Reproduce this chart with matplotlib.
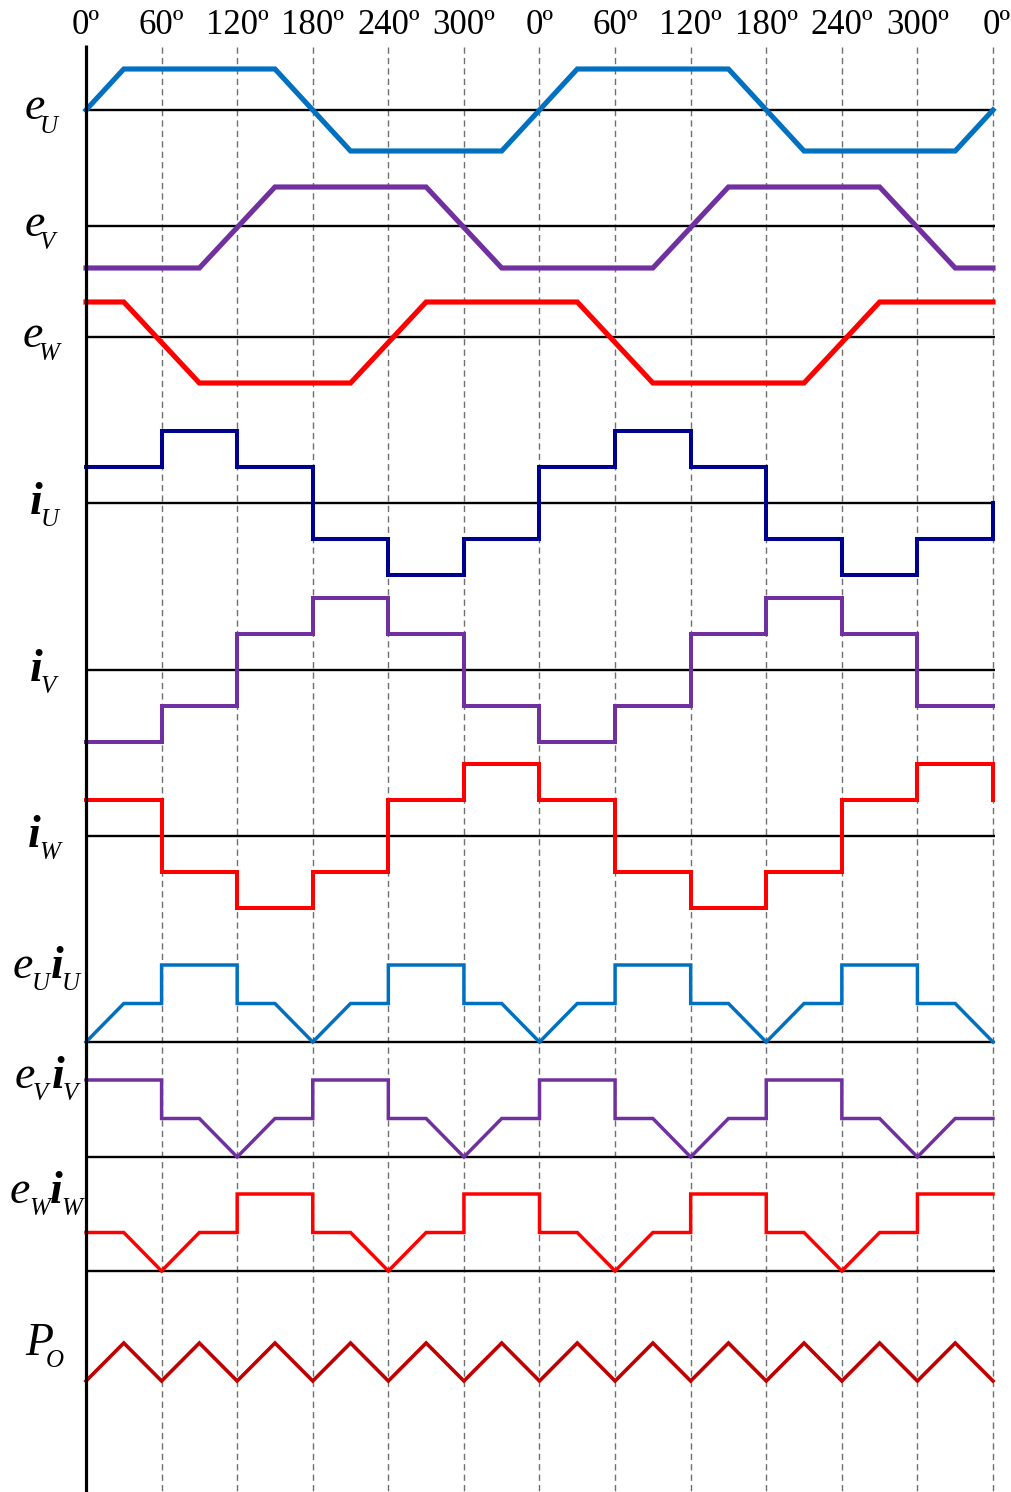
import matplotlib.pyplot as plt

W, H = 1012, 1492

# back-EMF breakpoints over one electrical period (deg, normalised value)
EU_X = [0, 30, 150, 210, 330, 360]
EU_Y = [0, 1, 1, -1, -1, 0]
EV_X = [0, 90, 150, 270, 330, 360]
EV_Y = [-1, -1, 1, 1, -1, -1]
EW_X = [0, 30, 90, 210, 270, 360]
EW_Y = [1, 1, -1, -1, 1, 1]

# six-step phase currents: level held from each 60 deg mark (last = end value)
STEP_X = [0, 60, 120, 180, 240, 300, 360, 420, 480, 540, 600, 660, 720]
IU_LEVELS = [1, 2, 1, -1, -2, -1, 1, 2, 1, -1, -2, -1, 0]
IV_LEVELS = [-2, -1, 1, 2, 1, -1, -2, -1, 1, 2, 1, -1, -1]
IW_LEVELS = [1, -1, -2, -1, 1, 2, 1, -1, -2, -1, 1, 2, 1]

# phase powers over one period
PU_X = [0, 30, 60, 60, 120, 120, 150, 180, 210, 240, 240, 300, 300, 330, 360]
PU_Y = [0, 1, 1, 2, 2, 1, 1, 0, 1, 1, 2, 2, 1, 1, 0]
PV_X = [0, 60, 60, 90, 120, 150, 180, 180, 240, 240, 270, 300, 330, 360]
PV_Y = [2, 2, 1, 1, 0, 1, 1, 2, 2, 1, 1, 0, 1, 1]
PW_X = [0, 30, 60, 90, 120, 120, 180, 180, 210, 240, 270, 300, 300, 360]
PW_Y = [1, 1, 0, 1, 1, 2, 2, 1, 1, 0, 1, 1, 2, 2]

# total output power
PO_X = [0, 30, 60, 90, 120, 150, 180, 210, 240, 270, 300, 330, 360,
        390, 420, 450, 480, 510, 540, 570, 600, 630, 660, 690, 720]
PO_Y = [3, 4, 3, 4, 3, 4, 3, 4, 3, 4, 3, 4, 3, 4, 3, 4, 3, 4, 3, 4, 3, 4, 3, 4, 3]

TICK_DEG = [0, 60, 120, 180, 240, 300, 360, 420, 480, 540, 600, 660, 720]
TICK_TXT = ["0º", "60º", "120º", "180º", "240º", "300º",
            "0º", "60º", "120º", "180º", "240º", "300º", "0º"]


def two_periods(xs, ys):
    return xs + [x + 360 for x in xs], ys + ys


def to_px(vals, base, up, down=None):
    down = up if down is None else down
    return [base - v * up if v >= 0 else base - v * down for v in vals]


X0, X720 = 86, 993
deg_per_px = 720 / (X720 - X0)

fig = plt.figure(figsize=(W / 100, H / 100), dpi=100)
ax = fig.add_axes([0, 0, 1, 1])
ax.set_xlim(-X0 * deg_per_px, (W - X0) * deg_per_px)
ax.set_ylim(H, 0)
ax.axis("off")

# grid
ax.vlines(TICK_DEG[1:], 47, H, colors="#707070", lw=1.0, linestyles=(0, (4.5, 3)), zorder=1)
ax.vlines(0, 45, H, colors="black", lw=2.3, zorder=4)
for y in [110, 226, 337, 503, 670, 836, 1042, 1157, 1271]:
    ax.hlines(y, 0, 721.5, colors="black", lw=1.7, zorder=2)

# back-EMFs
blue, purple, red, navy, dred = "#0070C0", "#7030A0", "#FF0000", "#00008F", "#C00000"
for (xs, ys), base, up, dn, c in [
    (two_periods(EU_X, EU_Y), 110, 41, 41, blue),
    (two_periods(EV_X, EV_Y), 226, 39, 42, purple),
    (two_periods(EW_X, EW_Y), 337, 35, 46, red),
]:
    ax.plot(xs, to_px(ys, base, up, dn), color=c, lw=3.7, zorder=3,
            solid_joinstyle="miter")

# currents
for levels, base, c in [(IU_LEVELS, 503, navy), (IV_LEVELS, 670, purple), (IW_LEVELS, 836, red)]:
    ax.plot(STEP_X, to_px(levels, base, 36), drawstyle="steps-post", color=c, lw=2.9,
            zorder=3, solid_joinstyle="miter")

# phase powers
for (xs, ys), base, c in [
    (two_periods(PU_X, PU_Y), 1042, blue),
    (two_periods(PV_X, PV_Y), 1157, purple),
    (two_periods(PW_X, PW_Y), 1271, red),
]:
    ax.plot(xs, to_px(ys, base, 38.5), color=c, lw=2.5, zorder=3, solid_joinstyle="miter")

ax.plot(PO_X, to_px(PO_Y, 1495, 38), color=dred, lw=2.6, zorder=3, solid_joinstyle="miter")

# angle labels on top
for d, t in zip(TICK_DEG, TICK_TXT):
    xp = X0 + d / deg_per_px + (4 if d == 720 else 0)
    fig.text(xp / W, 1 - 34 / H, t, ha="center", va="baseline",
             family="Liberation Serif", fontsize=25)


def label(parts):
    # parts: (text, x_px, baseline_px, size, bold)
    for txt, xp, yp, size, bold in parts:
        fig.text(xp / W, 1 - yp / H, txt, ha="left", va="baseline",
                 family="Liberation Serif", style="italic",
                 weight="bold" if bold else "normal", fontsize=size)


BIG, SUB = 33, 18
label([("e", 25, 119, BIG, False), ("U", 40, 133, SUB, False)])
label([("e", 25, 236, BIG, False), ("V", 40, 249, SUB, False)])
label([("e", 23, 347, BIG, False), ("W", 38, 360, SUB, False)])
label([("i", 30, 514, BIG, True), ("U", 41, 526, SUB, False)])
label([("i", 30, 681, BIG, True), ("V", 41, 693, SUB, False)])
label([("i", 28, 847, BIG, True), ("W", 39, 859, SUB, False)])
label([("e", 13, 978, BIG, False), ("U", 32, 990, SUB, False),
       ("i", 51, 978, BIG, True), ("U", 62, 990, SUB, False)])
label([("e", 15, 1088, BIG, False), ("V", 33, 1100, SUB, False),
       ("i", 52, 1088, BIG, True), ("V", 63, 1100, SUB, False)])
label([("e", 10, 1203, BIG, False), ("W", 29, 1215, SUB, False),
       ("i", 50, 1203, BIG, True), ("W", 61, 1215, SUB, False)])
label([("P", 25, 1355, BIG, False), ("O", 46, 1367, SUB, False)])

fig.savefig("out.png", dpi=100)
